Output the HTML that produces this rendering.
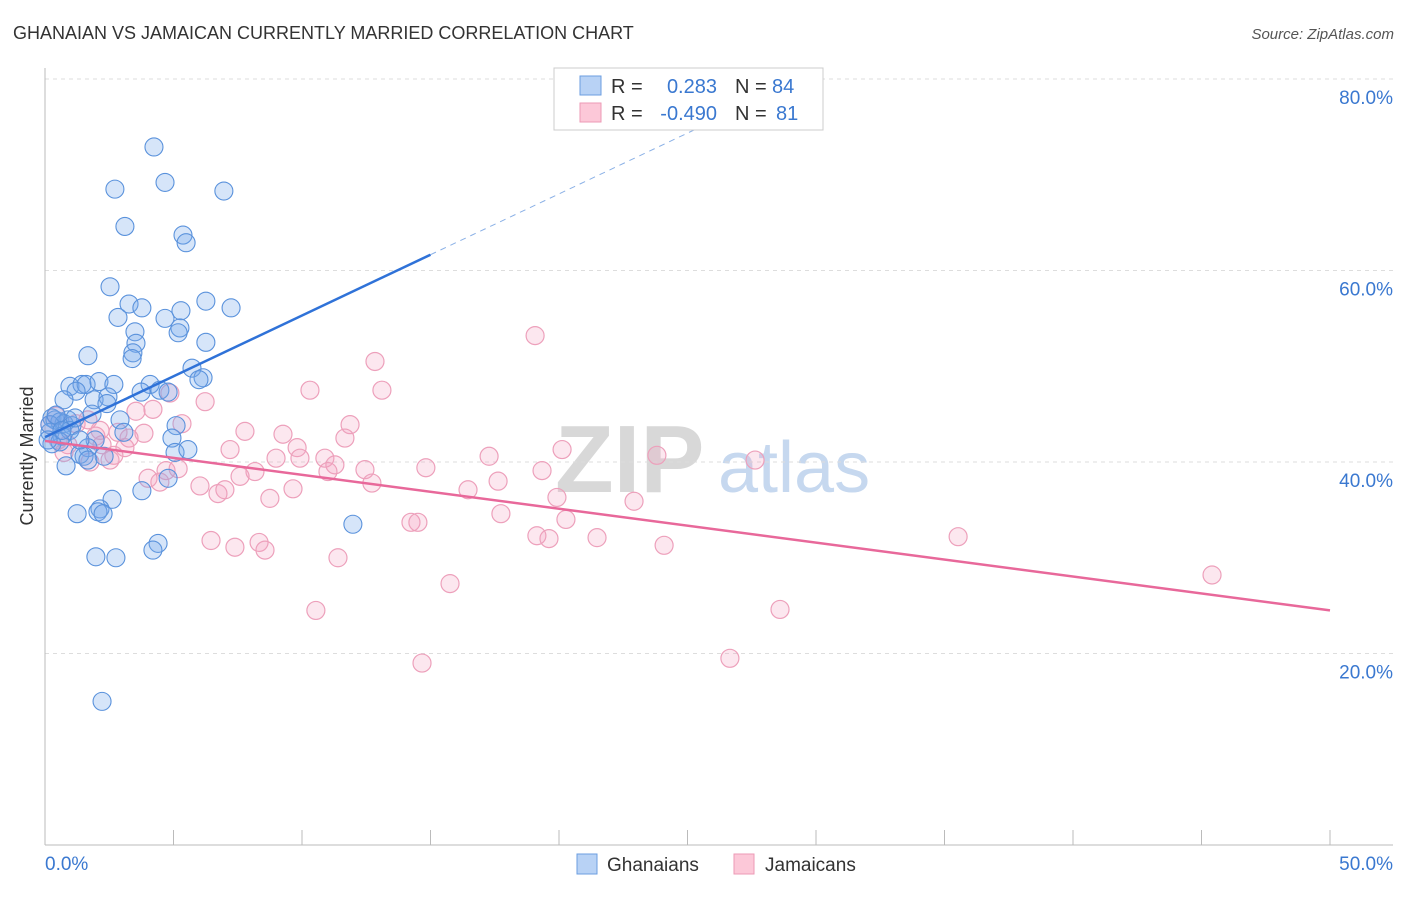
<!DOCTYPE html>
<html><head><meta charset="utf-8"><style>
body{margin:0;background:#fff;font-family:"Liberation Sans",sans-serif;}
svg text{font-family:"Liberation Sans",sans-serif;}
</style></head><body>
<svg id="chart" width="1406" height="892">
<text x="13" y="39" font-size="18" fill="#333">GHANAIAN VS JAMAICAN CURRENTLY MARRIED CORRELATION CHART</text>
<text x="1394" y="39" font-size="15" fill="#555" font-style="italic" text-anchor="end">Source: ZipAtlas.com</text>
<g>
<text x="555" y="492" font-size="96" fill="#d8d8d8" font-family="Liberation Serif" font-weight="bold">ZIP</text>
<text x="718" y="492" font-size="72" fill="#c6d8ef">atlas</text>
</g>
<g id="grid"></g>
<g id="axes"></g>
<g id="pts"></g>
<g id="trend"></g>
<text x="33" y="456" font-size="18" fill="#333" transform="rotate(-90 33 456)" text-anchor="middle">Currently Married</text>
<g>
<rect x="554" y="68" width="269" height="62" fill="#fff" stroke="#ccc"/>
<rect x="580" y="76" width="21" height="19" fill="#b8d2f5" stroke="#6b9ee0"/>
<rect x="580" y="103" width="21" height="19" fill="#fcc8d8" stroke="#ec9ab6"/>
<text x="611" y="93" font-size="20" fill="#333">R =</text>
<text x="717" y="93" font-size="20" fill="#3a78d0" text-anchor="end">0.283</text>
<text x="735" y="93" font-size="20" fill="#333">N =</text>
<text x="772" y="93" font-size="20" fill="#3a78d0">84</text>
<text x="611" y="120" font-size="20" fill="#333">R =</text>
<text x="717" y="120" font-size="20" fill="#3a78d0" text-anchor="end">-0.490</text>
<text x="735" y="120" font-size="20" fill="#333">N =</text>
<text x="776" y="120" font-size="20" fill="#3a78d0">81</text>
</g>
<g>
<rect x="577" y="854" width="20" height="20" fill="#b8d2f5" stroke="#6b9ee0"/>
<text x="607" y="871" font-size="19" fill="#333">Ghanaians</text>
<rect x="734" y="854" width="20" height="20" fill="#fcc8d8" stroke="#ec9ab6"/>
<text x="765" y="871" font-size="19" fill="#333">Jamaicans</text>
</g>
</svg>
<script>
const blueX=[4.24,4.67,2.72,6.96,3.11,5.37,5.49,2.53,3.27,3.77,6.26,7.24,5.29,2.84,4.67,5.25,3.50,5.18,3.54,6.26,3.42,3.39,1.67,5.72,6.15,5.99,0.97,1.44,1.60,2.10,2.68,4.09,1.21,3.74,4.47,4.79,1.91,2.45,2.41,0.74,1.83,2.92,0.27,0.39,0.58,0.89,0.74,1.05,0.19,0.66,0.97,3.07,5.10,4.94,1.95,0.27,0.58,1.67,2.30,5.06,5.56,1.36,1.52,1.67,0.82,4.79,2.61,3.77,2.14,2.06,2.26,1.25,11.98,4.40,4.20,1.98,2.76,2.22,0.19,0.43,0.66,1.17,0.12,1.36];
const blueY=[72.9,69.2,68.5,68.3,64.6,63.7,62.9,58.3,56.5,56.1,56.8,56.1,55.8,55.1,55.0,54.0,53.6,53.5,52.4,52.5,51.4,50.8,51.1,49.8,48.8,48.6,47.9,48.1,48.1,48.4,48.1,48.1,47.4,47.3,47.5,47.3,46.5,46.8,46.1,46.5,45.0,44.4,44.6,44.4,44.2,44.4,44.0,43.8,43.1,42.7,43.3,43.1,43.8,42.5,42.3,41.9,42.1,41.5,40.6,41.0,41.3,40.8,40.6,40.2,39.6,38.3,36.1,37.0,35.1,34.8,34.6,34.6,33.5,31.5,30.8,30.1,30.0,15.0,43.9,44.9,43.3,44.6,42.3,42.3];
const pinkX=[19.07,12.84,13.11,10.31,4.86,6.23,4.20,3.54,5.33,11.87,11.67,7.78,3.85,3.27,2.84,1.98,9.26,9.81,7.20,0.43,0.19,0.51,0.89,2.22,2.68,3.11,2.53,9.92,10.89,11.28,8.99,8.17,7.59,4.71,5.18,4.01,4.47,6.03,6.73,7.00,9.65,8.75,12.45,12.72,11.01,14.82,17.28,19.34,20.12,23.81,27.63,16.46,17.63,19.92,22.92,17.74,20.27,14.24,14.51,19.14,19.61,21.48,24.09,35.53,6.46,7.39,8.33,8.56,11.40,15.76,10.54,28.60,45.41,14.67,26.65,1.67,0.74,1.75,2.14,1.21];
const pinkY=[53.2,50.5,47.5,47.5,47.2,46.3,45.5,45.3,44.0,43.9,42.5,43.2,43.0,42.5,43.1,42.7,42.9,41.5,41.3,44.8,43.9,42.3,41.8,41.8,40.7,41.5,40.2,40.4,40.4,39.7,40.4,39.0,38.5,39.1,39.3,38.3,37.9,37.5,36.7,37.1,37.2,36.2,39.2,37.8,39.0,39.4,40.6,39.1,41.3,40.7,40.2,37.1,38.0,36.3,35.9,34.6,34.0,33.7,33.7,32.3,32.0,32.1,31.3,32.2,31.8,31.1,31.6,30.8,30.0,27.3,24.5,24.6,28.2,19.0,19.5,44.4,41.0,40.0,43.3,44.0];
const yTicks=[20,40,60,80];
const yTickLabels=["20.0%","40.0%","60.0%","80.0%"];
const xTicks=[0,5,10,15,20,25,30,35,40,45,50];
const blueTrend=[42.6,1.27]; // intercept, slope
const blueSolidEnd=15, blueDashEnd=26;
const pinkTrend=[42.2,-0.354];

const NS="http://www.w3.org/2000/svg";
const sx=v=>45+v*1285/50;
const sy=v=>845-v*191.5/20;
function mk(tag,attrs,parent){const e=document.createElementNS(NS,tag);for(const k in attrs)e.setAttribute(k,attrs[k]);document.getElementById(parent).appendChild(e);return e;}

yTicks.forEach((t,i)=>{
  const g=mk('line',{x1:45,x2:1393,y1:sy(t),y2:sy(t),stroke:'#ddd','stroke-dasharray':'4,4'},'grid');
  
  
  const l=mk('text',{x:1393,y:sy(t)+25,'font-size':19,fill:'#3a78d0','text-anchor':'end'},'axes');
  l.textContent=yTickLabels[i];
  
  
});
const ax=mk('line',{x1:45,x2:45,y1:68,y2:845,stroke:'#bbb'},'axes');


const bx=mk('line',{x1:45,x2:1393,y1:845,y2:845,stroke:'#bbb'},'axes');


xTicks.forEach(t=>{
  const tk=mk('line',{x1:sx(t),x2:sx(t),y1:830,y2:845,stroke:'#bbb'},'axes');
  
  
});
const x0=mk('text',{x:45,y:870,'font-size':19,fill:'#3a78d0'},'axes');x0.textContent='0.0%';


const x1=mk('text',{x:1393,y:870,'font-size':19,fill:'#3a78d0','text-anchor':'end'},'axes');x1.textContent='50.0%';



pinkX.forEach((x,i)=>{
  const c=mk('circle',{cx:sx(x),cy:sy(pinkY[i]),r:9,fill:'rgba(245,160,190,0.25)',stroke:'#eda0bb','stroke-width':1.2},'pts');
  
  
});
blueX.forEach((x,i)=>{
  const c=mk('circle',{cx:sx(x),cy:sy(blueY[i]),r:9,fill:'rgba(120,170,235,0.3)',stroke:'#5a92dc','stroke-width':1.1},'pts');
  
  
});
const bl=mk('line',{x1:sx(0),y1:sy(blueTrend[0]),x2:sx(blueSolidEnd),y2:sy(blueTrend[0]+blueTrend[1]*blueSolidEnd),stroke:'#2f72d8','stroke-width':2.5},'trend');


const bd=mk('line',{x1:sx(blueSolidEnd),y1:sy(blueTrend[0]+blueTrend[1]*blueSolidEnd),x2:sx(blueDashEnd),y2:sy(blueTrend[0]+blueTrend[1]*blueDashEnd),stroke:'#8ab0e6','stroke-width':1,'stroke-dasharray':'6,5'},'trend');


const pl=mk('line',{x1:sx(0),y1:sy(pinkTrend[0]),x2:sx(50),y2:sy(pinkTrend[0]+pinkTrend[1]*50),stroke:'#e8689a','stroke-width':2.5},'trend');


</script>
</body></html>
